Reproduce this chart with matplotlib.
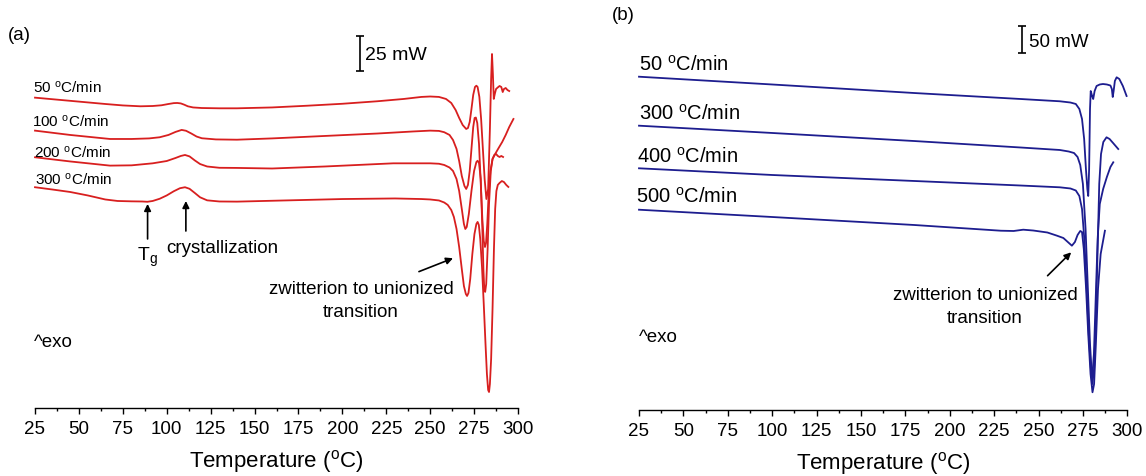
import numpy as np
import matplotlib
matplotlib.use("Agg")
import matplotlib.pyplot as plt

plt.rcParams["font.family"] = ["Liberation Sans", "DejaVu Sans"]
plt.rcParams["mathtext.default"] = "regular"

RED = "#d81f1f"
BLUE = "#1d1d8f"

# ---- panel (a): heat flow (mW, curves offset for clarity) vs temperature (C)
a50_t = [25, 35, 45, 55, 65, 75, 85, 92, 97, 101, 104, 106, 108, 110, 112, 115, 120, 130,
         140, 160, 180, 200, 220, 235, 245, 250, 255, 259, 262, 264.5, 266.5, 268.5, 270.5,
         271.5, 272.5, 273.5, 274.5, 275.5, 276.3, 277, 278, 279, 280, 281, 282, 283, 284,
         284.7, 285.2, 285.7, 286.2, 286.8, 287.5, 288.5, 289.5, 290.5, 291.3, 292, 293,
         294, 295]
a50_q = [215.5, 214.4, 213.3, 212.2, 211.1, 210.1, 209.5, 209.7, 210.2, 211.1, 211.7, 211.8,
         211.5, 210.6, 209.5, 208.7, 208.3, 208.1, 208.1, 208.7, 209.9, 211.25, 213.0, 214.6,
         216.0, 216.3, 216.0, 214.6, 211.8, 206.9, 201.4, 196.5, 193.75, 194.4, 198.6, 207.6,
         217.4, 222.9, 223.8, 222.9, 216.0, 200.7, 179.9, 159.0, 145.1, 152.1, 193.75, 228.5,
         245.8, 231.9, 214.6, 218.1, 221.5, 222.6, 223.6, 222.9, 219.4, 221.5, 222.2, 220.8,
         220.1]

a100_t = [25, 45, 67.7, 80, 90, 96, 101, 105, 108.5, 111, 114, 117, 120, 128, 140, 160, 190,
          220, 240, 250, 255, 258, 261, 263, 265, 266.5, 268, 269.5, 270.5, 271.5, 272.5,
          273.5, 274.5, 275.3, 276, 276.8, 277.8, 278.8, 279.7, 280.5, 281.2, 281.8, 282.5,
          283.3, 284.3, 285.5, 287, 289, 291, 293, 295, 297.4]
a100_q = [192.6, 189.6, 186.8, 186.8, 187.2, 188.0, 189.6, 191.7, 193.1, 192.5, 190.6, 188.5,
          187.3, 186.5, 186.3, 187.2, 188.9, 190.6, 192.0, 192.6, 192.4, 191.5, 189.6, 186.1,
          179.9, 171.5, 161.1, 154.2, 152.1, 154.9, 164.6, 179.9, 195.1, 201.4, 201.7, 197.9,
          183.3, 155.6, 131.25, 116.0, 111.8, 114.6, 127.8, 148.6, 164.6, 172.9, 176.4, 180.6,
          184.7, 189.6, 195.1, 200.7]

a200_t = [25, 45, 67.7, 80, 92, 100, 105, 108, 110.4, 113, 116, 119, 123, 130, 140, 160, 190,
          229, 250, 255, 258, 261, 263, 265, 266.5, 268, 269.2, 270, 270.8, 272, 273.5, 275,
          276.3, 277, 277.8, 278.8, 279.7, 280.3, 280.8, 281.3, 281.9, 282.7, 283.5, 284.5,
          285.5, 286.5, 287.5, 288.5, 289.5, 290.5, 291.5]
a200_q = [174.1, 171.2, 168.3, 168.5, 169.9, 171.5, 173.6, 175.0, 175.7, 174.7, 171.9, 169.4,
          167.7, 166.8, 166.7, 166.3, 167.7, 169.9, 169.9, 169.6, 168.75, 167.0, 164.6, 159.0,
          150.7, 138.2, 127.8, 124.3, 125.7, 134.7, 150.7, 164.6, 170.8, 171.7, 170.1, 159.0,
          124.3, 96.5, 82.6, 80.6, 86.1, 110.4, 141.7, 164.6, 172.9, 175.7, 176.4, 175.0,
          174.3, 175.0, 174.3]

a300_t = [25, 35, 45, 55, 65, 72, 80, 86, 89, 92, 96, 100, 104, 107.5, 110.4, 113, 116, 119,
          123, 130, 140, 160, 200, 230, 245, 250, 255, 258, 260, 262, 263.5, 265, 266.5, 268,
          269.2, 270.3, 271, 271.8, 272.8, 274, 275.2, 276.3, 277, 277.7, 278.5, 279.5, 280.5,
          281.5, 282.3, 283, 283.5, 284, 284.7, 285.5, 286.3, 287, 287.7, 288.5, 289.5, 290.8,
          292, 293.3, 294.5]
a300_q = [153.3, 151.7, 150.0, 147.6, 144.8, 143.75, 143.5, 143.4, 143.2, 143.75, 145.3, 147.6,
          150.5, 152.6, 153.3, 152.2, 149.3, 146.3, 144.2, 143.4, 143.3, 143.9, 145.1, 145.5,
          145.1, 144.8, 144.1, 142.7, 141.0, 137.5, 132.6, 124.3, 111.8, 96.5, 84.7, 79.2,
          77.8, 79.9, 89.6, 106.9, 120.8, 127.8, 129.2, 127.1, 117.4, 97.9, 72.2, 44.4, 23.6,
          12.5, 11.1, 16.7, 34.0, 68.75, 110.4, 138.2, 150.7, 154.9, 156.25, 157.6, 156.9,
          154.9, 153.5]

# ---- panel (b)
b50_t = [25, 100, 180, 240, 262, 268, 271, 273, 274.5, 275.7, 276.7, 277.5, 278, 278.5, 279,
         279.4, 280.2, 280.8, 281.6, 282.7, 284.5, 286.3, 288.5, 290.5, 291.3, 291.8, 292.3,
         293, 294, 295.5, 297.5, 299.6]
b50_q = [617.2, 602.8, 587.0, 575.9, 571.7, 569.4, 566.7, 557.4, 538.9, 501.9, 446.3, 409.3,
         396.3, 446.3, 557.4, 590.7, 581.5, 575.9, 590.7, 600.0, 602.8, 603.7, 602.8, 600.9,
         594.4, 579.6, 590.7, 609.3, 616.1, 613.0, 600.0, 581.5]

b300_t = [25, 100, 180, 240, 262, 267, 270, 272, 273.5, 275, 276.5, 277.8, 279, 280.3, 281.3,
          282.3, 283.3, 284.2, 285.2, 286.5, 288.3, 290, 292, 294.9]
b300_q = [526.5, 513.0, 498.1, 486.1, 481.5, 478.7, 475.9, 468.5, 453.7, 418.5, 335.2, 224.1,
          122.2, 48.1, 75.9, 168.5, 298.1, 418.5, 474.1, 496.3, 505.0, 501.9, 494.4, 483.3]

b400_t = [25, 100, 180, 240, 262, 268, 271, 273, 274.5, 275.8, 277, 278.3, 279.5, 280.3,
          281.2, 282.2, 283.3, 284.5, 286.4, 288.5, 290.5, 292.1]
b400_q = [447.6, 435.2, 424.1, 415.7, 412.4, 410.2, 406.5, 396.3, 372.2, 316.7, 233.3, 140.7,
          75.9, 63.5, 103.7, 205.6, 316.7, 381.5, 409.3, 431.5, 450.0, 458.7]

b500_t = [25, 100, 180, 228.8, 236, 241.4, 247, 255, 260.4, 264, 266.5, 268.8, 270.5, 272,
          273.5, 274.5, 275.5, 276.8, 278, 279.3, 280.4, 281.3, 282.3, 283.5, 285, 287.4]
b500_q = [370.9, 357.4, 342.6, 332.0, 331.5, 333.9, 332.4, 328.7, 322.8, 318.5, 311.1, 304.3,
          311.1, 324.1, 331.5, 329.6, 298.1, 224.1, 140.7, 66.7, 32.8, 48.1, 122.2, 224.1,
          288.9, 332.0]

fig = plt.figure(figsize=(11.46, 4.77), dpi=100)
ax_a = fig.add_axes([0.03054, 0.14256, 0.42147, 0.85744])
ax_b = fig.add_axes([0.55759, 0.13836, 0.42609, 0.86164])

for ax in (ax_a, ax_b):
    for s in ("left", "right", "top"):
        ax.spines[s].set_visible(False)
    ax.spines["bottom"].set_linewidth(1.0)
    ax.set_yticks([])
    ax.set_xlim(25, 300)
    ax.set_xticks(np.arange(25, 301, 25))
    ax.set_xticks(np.arange(37.5, 300, 25), minor=True)
    ax.tick_params(axis="x", which="major", direction="out", length=4.5, width=1.0,
                   labelsize=13.5, pad=4)
    ax.tick_params(axis="x", which="minor", direction="out", length=2.5, width=1.0)
    ax.set_xlabel("Temperature ($^{o}$C)", fontsize=16, labelpad=7)
    ax.patch.set_alpha(0)

ax_a.set_ylim(0, 284.0)
ax_b.set_ylim(0, 761.1)

for t, q in [(a50_t, a50_q), (a100_t, a100_q), (a200_t, a200_q), (a300_t, a300_q)]:
    ax_a.plot(t, q, color=RED, lw=1.3, clip_on=False, solid_joinstyle="round")
for t, q in [(b50_t, b50_q), (b300_t, b300_q), (b400_t, b400_q), (b500_t, b500_q)]:
    ax_b.plot(t, q, color=BLUE, lw=1.3, clip_on=False, solid_joinstyle="round")

# labels panel (a)
lab_kw = dict(ha="left", va="center", fontsize=11)
ax_a.text(23.9, 222.9, "50 $^{o}$C/min", **lab_kw)
ax_a.text(23.3, 199.3, "100 $^{o}$C/min", **lab_kw)
ax_a.text(24.4, 177.8, "200 $^{o}$C/min", **lab_kw)
ax_a.text(25.0, 159.0, "300 $^{o}$C/min", **lab_kw)
ax_a.errorbar([210.1], [246.35], yerr=[12.15], color="k", lw=1.2, capsize=3, capthick=1.2)
ax_a.text(212.9, 245.8, "25 mW", ha="left", va="center", fontsize=14)
arr = dict(arrowstyle="-|>", color="k", lw=1.2, mutation_scale=10, shrinkA=0, shrinkB=0)
ax_a.annotate("", xy=(89.1, 141.7), xytext=(89.1, 117.4), arrowprops=arr)
ax_a.annotate("", xy=(110.9, 143.75), xytext=(110.9, 122.9), arrowprops=arr)
ax_a.text(88.8, 105, "T$_{g}$", ha="center", va="center", fontsize=14)
ax_a.text(99.6, 111.1, "crystallization", ha="left", va="center", fontsize=13.5)
ax_a.text(210.6, 83.3, "zwitterion to unionized", ha="center", va="center", fontsize=13.5)
ax_a.text(210.6, 66.7, "transition", ha="center", va="center", fontsize=13.5)
ax_a.annotate("", xy=(263.0, 104.0), xytext=(243.6, 94.7), arrowprops=arr)
ax_a.text(24.4, 46.5, "^exo", ha="left", va="center", fontsize=13.5)

# labels panel (b)
lab_kw = dict(ha="left", va="center", fontsize=14.5)
ax_b.text(25.0, 640.7, "50 $^{o}$C/min", **lab_kw)
ax_b.text(25.0, 550.0, "300 $^{o}$C/min", **lab_kw)
ax_b.text(23.9, 470.4, "400 $^{o}$C/min", **lab_kw)
ax_b.text(23.3, 396.3, "500 $^{o}$C/min", **lab_kw)
ax_b.errorbar([240.7], [686.1], yerr=[25.0], color="k", lw=1.2, capsize=3, capthick=1.2)
ax_b.text(244.6, 683.3, "50 mW", ha="left", va="center", fontsize=13.5)
ax_b.text(219.8, 213.0, "zwitterion to unionized", ha="center", va="center", fontsize=13.5)
ax_b.text(219.8, 172.2, "transition", ha="center", va="center", fontsize=13.5)
ax_b.annotate("", xy=(268.4, 292.0), xytext=(255.1, 248.7), arrowprops=arr)
ax_b.text(24.7, 137.0, "^exo", ha="left", va="center", fontsize=13.5)

fig.text(8 / 1146, 1 - 35 / 477, "(a)", ha="left", va="center", fontsize=13.5)
fig.text(612 / 1146, 1 - 15 / 477, "(b)", ha="left", va="center", fontsize=13.5)

fig.savefig("out.png", dpi=100)
